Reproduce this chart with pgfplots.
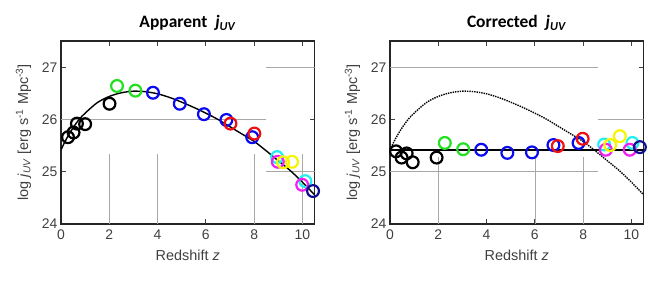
\documentclass[border=0pt]{standalone}
\usepackage{pgfplots}
\pgfplotsset{compat=1.18}
\usepackage{pgfplotstable}
\usepackage{fontspec}
\setmainfont{Liberation Sans}
\newfontfamily\titlefont{Carlito}
\definecolor{txt}{HTML}{404040}
\definecolor{gridc}{HTML}{A8A8A8}
\definecolor{cgreen}{HTML}{22E022}
\definecolor{cblue}{HTML}{0A0AF0}
\definecolor{cred}{HTML}{F01010}
\definecolor{ccyan}{HTML}{20F0F0}
\definecolor{cmag}{HTML}{F020F0}
\definecolor{cyel}{HTML}{F5F500}
\definecolor{cnavy}{HTML}{101090}

\pgfplotstableread{
z y
0.0 25.42
0.25 25.65
0.5 25.84
0.75 26.00
1.0 26.12
1.5 26.32
2.0 26.44
2.5 26.51
3.0 26.54
3.5 26.53
4.0 26.49
4.5 26.42
5.0 26.33
5.5 26.23
6.0 26.12
6.5 26.00
7.0 25.86
7.5 25.72
8.0 25.58
8.5 25.40
9.0 25.21
9.5 25.02
10.0 24.80
10.5 24.56
}\fitcurve

\pgfplotsset{
  circ/.style={only marks, mark=o, mark size=5.9bp, line width=2.2bp},
  gridl/.style={gridc, line width=0.6bp, forget plot},
  panel/.style={
    scale only axis, width=253.5bp, height=183bp,
    xmin=0, xmax=10.5, ymin=24, ymax=27.5,
    xtick={0,2,...,10}, ytick={24,25,26,27},
    tick align=inside,
    major tick length=5bp,
    tick style={txt, line width=0.8bp},
    axis line style={black!85, line width=1.5bp},
    /pgf/number format/assume math mode=true,
    ticklabel style={font=\fontsize{14}{16}\selectfont, text=txt},
    xticklabel style={yshift=-2bp},
    label style={font=\fontsize{14.5}{17}\selectfont, text=txt},
    xlabel style={yshift=-4bp},
    ylabel style={yshift=4bp},
    title style={font=\titlefont\bfseries\fontsize{17.5}{20}\selectfont, at={(0.5,1)}, anchor=south, yshift=1bp},
    xlabel={Redshift \textit{z}},
    ylabel={log \textit{j}\textsubscript{\textit{UV}} [erg s\textsuperscript{-1} Mpc\textsuperscript{-3}]},
  }
}

\begin{document}
\begin{tikzpicture}
\path[use as bounding box] (0,0) rectangle (648bp,292bp);

% ---------------- Left panel ----------------
\begin{axis}[panel, at={(61bp,68bp)}, anchor=south west,
  title={Apparent \ \textit{j}\textsubscript{\textit{UV}}}]
\addplot[gridl] coordinates {(0,26) (8.5,26)};
\addplot[gridl] coordinates {(8.5,27) (10.5,27)};
\addplot[gridl] coordinates {(8.5,25) (10.5,25)};
\addplot[gridl] coordinates {(2,24) (2,25.34)};
\addplot[gridl] coordinates {(4,24) (4,25.34)};
\addplot[gridl] coordinates {(8,24) (8,25.34)};
\addplot[gridl] coordinates {(10,24) (10,25.34)};

\addplot[black, line width=1.4bp, smooth] table[x=z, y=y] {\fitcurve};

\addplot[circ, black] coordinates {(0.29,25.66) (0.52,25.75) (0.66,25.92) (1.0,25.91) (2.01,26.30)};
\addplot[circ, cgreen] coordinates {(2.32,26.64) (3.08,26.55)};
\addplot[circ, cblue] coordinates {(3.81,26.51) (4.92,26.30) (5.92,26.10) (6.85,25.99) (7.92,25.66)};
\addplot[circ, cred] coordinates {(7.02,25.92) (8.01,25.73)};
\addplot[circ, ccyan] coordinates {(8.95,25.28) (10.12,24.82)};
\addplot[circ, cmag] coordinates {(8.98,25.19) (9.99,24.75)};
\addplot[circ, cyel] coordinates {(9.20,25.18) (9.57,25.19)};
\addplot[circ, cnavy] coordinates {(10.44,24.63)};
\end{axis}

% ---------------- Right panel ----------------
\begin{axis}[panel, at={(390bp,68bp)}, anchor=south west,
  title={Corrected \ \textit{j}\textsubscript{\textit{UV}}}]
\addplot[gridl] coordinates {(0,27) (8.6,27)};
\addplot[gridl] coordinates {(8.6,26) (10.5,26)};
\addplot[gridl] coordinates {(0,25) (8.6,25)};
\addplot[gridl] coordinates {(2,24) (2,25.28)};
\addplot[gridl] coordinates {(6,24) (6,25.28)};
\addplot[gridl] coordinates {(8,24) (8,25.28)};

\addplot[black, line width=1.4bp, densely dotted, smooth] table[x=z, y=y] {\fitcurve};
\addplot[black, line width=2.2bp] coordinates {(0,25.42) (10.5,25.42)};

\addplot[circ, black] coordinates {(0.25,25.39) (0.48,25.27) (0.69,25.35) (0.94,25.18) (1.93,25.27)};
\addplot[circ, cgreen] coordinates {(2.27,25.55) (3.03,25.43)};
\addplot[circ, cblue] coordinates {(3.78,25.42) (4.86,25.36) (5.88,25.37) (6.77,25.51) (7.81,25.55)};
\addplot[circ, cred] coordinates {(6.95,25.49) (7.98,25.63)};
\addplot[circ, ccyan] coordinates {(8.87,25.52) (10.04,25.55)};
\addplot[circ, cmag] coordinates {(8.94,25.42) (9.93,25.42)};
\addplot[circ, cyel] coordinates {(9.12,25.51) (9.52,25.68)};
\addplot[circ, cnavy] coordinates {(10.35,25.47)};
\end{axis}
\end{tikzpicture}
\end{document}
